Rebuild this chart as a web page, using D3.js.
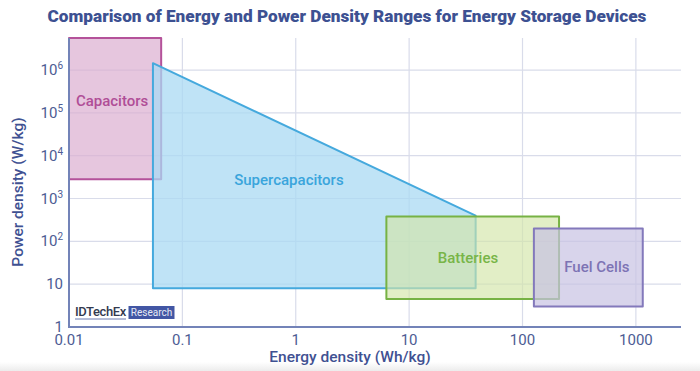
<!DOCTYPE html>
<html lang="en">
<head>
	<meta charset="utf-8">
	<title>Energy and Power Density</title>
	<style>
		body { margin: 0; background: #fff; }
		svg { display: block; font-family: Roboto, "Open Sans", sans-serif; }
		.grid line { stroke: #d9dcea; stroke-width: 1.2px; }
		.tick-label { fill: #4d5c94; font-size: 15px; }
		.axis-title { fill: #3f5192; font-size: 15.5px; font-weight: 500; }
		.region-label { font-size: 15px; font-weight: 500; }
	</style>
</head>
<body>
	<div id="chart"></div>

	<script src="https://cdn.jsdelivr.net/npm/d3@7"></script>
	<script>
		// values (energy in Wh/kg, power in W/kg)
		var categories  = ["Capacitors", "Supercapacitors", "Batteries", "Fuel Cells"];
		var energyMin   = [0.01, 0.055, 6.3, 126];
		var energyMax   = [0.065, 38.6, 210, 1150];
		var powerMin    = [2800, 8, 4.5, 3];
		var powerLeft   = [5.6e6, 1.45e6, 380, 200];   // top edge at energyMin
		var powerRight  = [5.6e6, 400, 380, 200];      // top edge at energyMax
		var labelEnergy = [0.024, 0.87, 33, 453];
		var labelPower  = [1.9e5, 2700, 41, 25];

		var xTicks = [0.01, 0.1, 1, 10, 100, 1000];
		var xTickLabels = ["0.01", "0.1", "1", "10", "100", "1000"];
		var yTicks = [1, 10, 1e2, 1e3, 1e4, 1e5, 1e6];
		var yTickBase = ["1", "10", "10", "10", "10", "10", "10"];
		var yTickExp  = ["", "", "2", "3", "4", "5", "6"];

		var fills   = ["#dcaed0", "#a9daf3", "#d3e5a8", "#c8c2e2"];
		var strokes = ["#b4529a", "#45a9dd", "#77b244", "#8379bb"];
		var textCol = ["#b04e97", "#3aa5dc", "#78b548", "#7d73b4"];
		var fillOp  = [0.7, 0.75, 0.65, 0.7];

		var width = 700,
		    height = 371;

		var svg = d3.select("#chart")
				.append("svg")
				.attr("width", width)
				.attr("height", height);

		var x = d3.scaleLog()
				.domain([0.01, 2500])
				.range([69, 681]);

		var y = d3.scaleLog()
				.domain([1, 5.6e6])
				.range([327, 38]);

		// faint shade at the bottom edge
		var grad = svg.append("defs").append("linearGradient")
				.attr("id", "shade")
				.attr("x1", 0).attr("y1", 0).attr("x2", 0).attr("y2", 1);
		grad.append("stop").attr("offset", "0%").attr("stop-color", "#fff");
		grad.append("stop").attr("offset", "100%").attr("stop-color", "#ececec");
		svg.append("rect")
				.attr("x", 0).attr("y", 362)
				.attr("width", width).attr("height", 9)
				.attr("fill", "url(#shade)");

		svg.append("text")
				.attr("x", 347)
				.attr("y", 22)
				.attr("text-anchor", "middle")
				.attr("fill", "#3d5192")
				.style("font-size", "17.2px")
				.style("font-weight", "900")
				.text("Comparison of Energy and Power Density Ranges for Energy Storage Devices");

		// grid
		var grid = svg.append("g").attr("class", "grid");
		grid.selectAll("line.v")
				.data(xTicks.slice(1))
			.enter().append("line")
				.attr("class", "v")
				.attr("x1", function(d) { return x(d); })
				.attr("x2", function(d) { return x(d); })
				.attr("y1", y.range()[1])
				.attr("y2", y.range()[0]);
		grid.selectAll("line.h")
				.data(yTicks.slice(1))
			.enter().append("line")
				.attr("class", "h")
				.attr("x1", x.range()[0])
				.attr("x2", x.range()[1])
				.attr("y1", function(d) { return y(d); })
				.attr("y2", function(d) { return y(d); });

		// regions
		var regions = categories.map(function(c, i) {
			return {
				name: c, i: i,
				pts: [
					[energyMin[i], powerMin[i]],
					[energyMin[i], powerLeft[i]],
					[energyMax[i], powerRight[i]],
					[energyMax[i], powerMin[i]]
				]
			};
		});

		svg.append("g")
			.selectAll("polygon")
				.data(regions)
			.enter().append("polygon")
				.attr("points", function(d) {
					return d.pts.map(function(p) { return x(p[0]) + "," + y(p[1]); }).join(" ");
				})
				.attr("fill", function(d) { return fills[d.i]; })
				.attr("fill-opacity", function(d) { return fillOp[d.i]; })
				.attr("stroke", function(d) { return strokes[d.i]; })
				.attr("stroke-width", 2)
				.attr("stroke-linejoin", "round");

		svg.append("g")
			.selectAll("text")
				.data(regions)
			.enter().append("text")
				.attr("class", "region-label")
				.attr("x", function(d) { return x(labelEnergy[d.i]); })
				.attr("y", function(d) { return y(labelPower[d.i]); })
				.attr("dy", "0.35em")
				.attr("text-anchor", "middle")
				.attr("fill", function(d) { return textCol[d.i]; })
				.text(function(d) { return d.name; });

		// axes lines
		svg.append("line")
				.attr("x1", x.range()[0]).attr("x2", x.range()[0])
				.attr("y1", y.range()[1]).attr("y2", y.range()[0] + 1)
				.attr("stroke", "#7383b8").attr("stroke-width", 2);
		svg.append("line")
				.attr("x1", x.range()[0] - 1).attr("x2", x.range()[1])
				.attr("y1", y.range()[0]).attr("y2", y.range()[0])
				.attr("stroke", "#7383b8").attr("stroke-width", 2);

		// tick labels
		svg.append("g")
			.selectAll("text")
				.data(xTicks)
			.enter().append("text")
				.attr("class", "tick-label")
				.attr("x", function(d) { return x(d); })
				.attr("y", 345)
				.attr("text-anchor", "middle")
				.text(function(d, i) { return xTickLabels[i]; });

		var yl = svg.append("g")
			.selectAll("text")
				.data(yTicks)
			.enter().append("text")
				.attr("class", "tick-label")
				.attr("x", 63)
				.attr("y", function(d) { return y(d) + 5; })
				.attr("text-anchor", "end");
		yl.append("tspan")
				.text(function(d, i) { return yTickBase[i]; });
		yl.append("tspan")
				.attr("dy", -6)
				.style("font-size", "10px")
				.text(function(d, i) { return yTickExp[i]; });

		// axis titles
		svg.append("text")
				.attr("class", "axis-title")
				.attr("x", 350)
				.attr("y", 362)
				.attr("text-anchor", "middle")
				.text("Energy density (Wh/kg)");

		svg.append("text")
				.attr("class", "axis-title")
				.attr("transform", "translate(23,192) rotate(-90)")
				.attr("text-anchor", "middle")
				.text("Power density (W/kg)");

		// logo
		var logo = svg.append("g");
		logo.append("text")
				.attr("x", 75)
				.attr("y", 316)
				.attr("fill", "#333a4f")
				.style("font-size", "13px")
				.style("font-weight", "500")
				.style("letter-spacing", "-0.4px")
				.text("IDTechEx");
		logo.append("line")
				.attr("x1", 75).attr("x2", 126)
				.attr("y1", 319).attr("y2", 319)
				.attr("stroke", "#6b7bb0").attr("stroke-width", 1);
		logo.append("rect")
				.attr("x", 128.5).attr("y", 306)
				.attr("width", 46).attr("height", 13)
				.attr("fill", "#4256a4");
		logo.append("text")
				.attr("x", 151.5)
				.attr("y", 316)
				.attr("text-anchor", "middle")
				.attr("fill", "#e6e9f5")
				.style("font-size", "10px")
				.text("Research");
	</script>
</body>
</html>
